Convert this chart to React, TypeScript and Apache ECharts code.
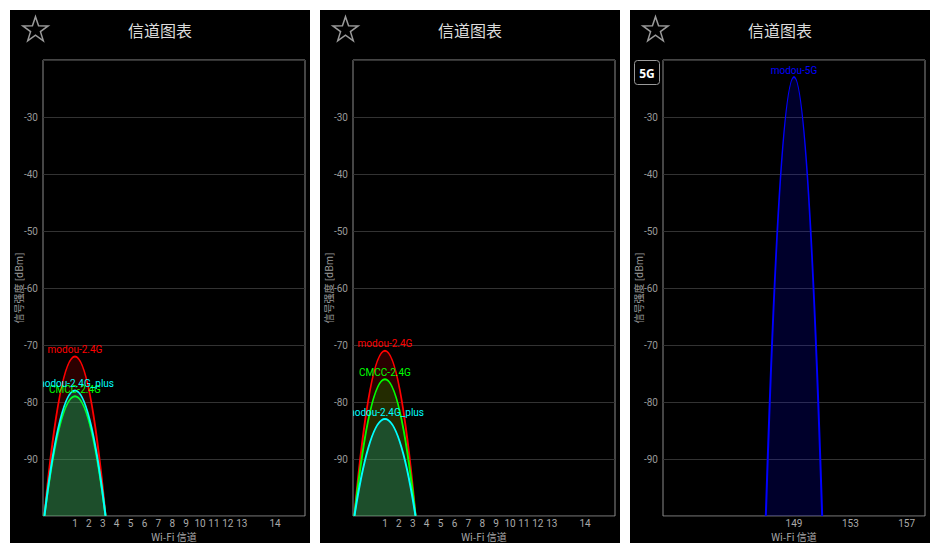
import React, { useEffect, useRef } from 'react';
import * as echarts from 'echarts';

const titleText = '信道图表';
const yAxisName = '信号强度 [dBm]';
const xAxisName = 'Wi-Fi 信道';
const yMin = -100;
const yMax = -20;
const yStep = 10;

// 2.4 GHz channel tick labels and their positions (channel 14 sits 12 MHz past 13)
const ch24Labels = ['1', '2', '3', '4', '5', '6', '7', '8', '9', '10', '11', '12', '13', '14'];
const ch24Pos = [1, 2, 3, 4, 5, 6, 7, 8, 9, 10, 11, 12, 13, 15.4];
// 5 GHz tick labels
const ch5Labels = ['149', '153', '157'];
const ch5Pos = [149, 153, 157];

// Panel 1 networks
const p1Names = ['modou-2.4G', 'CMCC-2.4G', 'modou-2.4G_plus'];
const p1Channels = [1, 1, 1];
const p1Signals = [-72, -79, -78];
const p1Colors = ['#ff0000', '#00ff00', '#00ffff'];

// Panel 2 networks
const p2Names = ['modou-2.4G', 'CMCC-2.4G', 'modou-2.4G_plus'];
const p2Channels = [1, 1, 1];
const p2Signals = [-71, -76, -83];
const p2Colors = ['#ff0000', '#00ff00', '#00ffff'];

// Panel 3 networks
const p3Names = ['modou-5G'];
const p3Channels = [149];
const p3Signals = [-23];
const p3Colors = ['#0000ff'];

const panelLefts = [10, 320, 630];
const panelTop = 10;
const panelW = 300;
const panelH = 533;

function hexToRgba(hex: string, a: number) {
  const n = parseInt(hex.slice(1), 16);
  return `rgba(${(n >> 16) & 255},${(n >> 8) & 255},${n & 255},${a})`;
}

function starPoints(cx: number, cy: number, R: number, r: number) {
  const pts: number[][] = [];
  for (let i = 0; i < 10; i++) {
    const rad = i % 2 === 0 ? R : r;
    const ang = -Math.PI / 2 + (i * Math.PI) / 5;
    pts.push([cx + rad * Math.cos(ang), cy + rad * Math.sin(ang)]);
  }
  return pts;
}

export default function App() {
  const ref = useRef<HTMLDivElement>(null);

  useEffect(() => {
    if (!ref.current) return;
    const chart = echarts.init(ref.current, undefined, { renderer: 'svg' });

    const panels = [
      { names: p1Names, chs: p1Channels, sigs: p1Signals, colors: p1Colors, min: -1.3, max: 17.55, pos: ch24Pos, labels: ch24Labels, half: 2.2 },
      { names: p2Names, chs: p2Channels, sigs: p2Signals, colors: p2Colors, min: -1.3, max: 17.55, pos: ch24Pos, labels: ch24Labels, half: 2.2 },
      { names: p3Names, chs: p3Channels, sigs: p3Signals, colors: p3Colors, min: 139.7, max: 158.3, pos: ch5Pos, labels: ch5Labels, half: 2.0 },
    ];

    const grids: any[] = [];
    const xAxes: any[] = [];
    const yAxes: any[] = [];
    const series: any[] = [];
    const graphics: any[] = [];

    panels.forEach((p, pi) => {
      const pl = panelLefts[pi];
      grids.push({
        left: pl + 33,
        top: 60,
        width: 262,
        height: 456,
        show: true,
        borderColor: '#8a8a8a',
        borderWidth: 1,
        backgroundColor: 'transparent',
      });
      xAxes.push({
        type: 'value',
        gridIndex: pi,
        min: p.min,
        max: p.max,
        axisLine: { show: false },
        axisTick: { show: false },
        splitLine: { show: false },
        axisLabel: {
          customValues: p.pos,
          formatter: (v: number) => {
            const idx = p.pos.findIndex((q) => Math.abs(q - v) < 1e-6);
            return idx >= 0 ? p.labels[idx] : '';
          },
          color: '#aaaaaa',
          fontSize: 10,
          fontFamily: 'Roboto',
          margin: 2,
        },
        name: xAxisName,
        nameLocation: 'middle',
        nameGap: 15,
        nameMoveOverlap: false,
        nameTextStyle: { color: '#aaaaaa', fontSize: 10, fontFamily: 'Noto Sans CJK SC' },
      });
      yAxes.push({
        type: 'value',
        gridIndex: pi,
        min: yMin,
        max: yMax,
        interval: yStep,
        axisLine: { show: false },
        axisTick: { show: false },
        splitLine: { show: true, lineStyle: { color: '#333333', width: 1 } },
        axisLabel: {
          showMinLabel: false,
          showMaxLabel: false,
          color: '#999999',
          fontSize: 10,
          fontFamily: 'Roboto',
          margin: 5,
        },
        name: yAxisName,
        nameLocation: 'middle',
        nameGap: 20,
        nameMoveOverlap: false,
        nameTextStyle: { color: '#999999', fontSize: 10, fontFamily: 'Noto Sans CJK SC' },
      });

      p.names.forEach((nm, i) => {
        const color = p.colors[i];
        const half = p.half;
        series.push({
          type: 'custom',
          name: nm,
          xAxisIndex: pi,
          yAxisIndex: pi,
          clip: true,
          silent: true,
          data: [[p.chs[i], p.sigs[i]]],
          renderItem: (params: any, api: any) => {
            const ch = api.value(0);
            const sig = api.value(1);
            const l = api.coord([ch - half, yMin]);
            const r = api.coord([ch + half, yMin]);
            const t = api.coord([ch, sig]);
            const cy = 2 * t[1] - l[1];
            const d = `M${l[0]} ${l[1]} Q${t[0]} ${cy} ${r[0]} ${r[1]}`;
            return {
              type: 'group',
              children: [
                {
                  type: 'path',
                  shape: { pathData: d },
                  style: { fill: hexToRgba(color, 0.17), stroke: color, lineWidth: 2 },
                },
                {
                  type: 'text',
                  z2: 100,
                  x: t[0],
                  y: t[1] - 2,
                  style: {
                    text: nm,
                    fill: color,
                    fontSize: 10,
                    fontFamily: 'Roboto',
                    align: 'center',
                    verticalAlign: 'bottom',
                    textAlign: 'center',
                    textVerticalAlign: 'bottom',
                  },
                },
              ],
            };
          },
        });
      });

      graphics.push({
        type: 'rect',
        z: -10,
        shape: { x: pl, y: panelTop, width: panelW, height: panelH },
        style: { fill: '#000000' },
      });
      graphics.push({
        type: 'text',
        x: pl + panelW / 2,
        y: 30,
        style: {
          text: titleText,
          fill: '#dddddd',
          fontSize: 16,
          fontFamily: 'Noto Sans CJK SC',
          align: 'center',
          verticalAlign: 'middle',
        },
      });
      graphics.push({
        type: 'polygon',
        shape: { points: starPoints(pl + 25.5, 30, 13.3, 5.2) },
        style: { fill: 'none', stroke: '#9a9a9a', lineWidth: 1.5 },
      });
    });

    // 5G toggle button in panel 3
    graphics.push({
      type: 'rect',
      shape: { x: 634.5, y: 60.5, width: 25, height: 24, r: 3 },
      style: { fill: '#000000', stroke: '#9a9a9a', lineWidth: 1 },
    });
    graphics.push({
      type: 'text',
      x: 647,
      y: 73,
      style: {
        text: '5G',
        fill: '#ffffff',
        fontSize: 12,
        fontWeight: 'bold',
        fontFamily: 'Open Sans',
        align: 'center',
        verticalAlign: 'middle',
      },
    });

    chart.setOption({
      animation: false,
      backgroundColor: '#ffffff',
      grid: grids,
      xAxis: xAxes,
      yAxis: yAxes,
      series,
      graphic: { elements: graphics },
    });

    return () => chart.dispose();
  }, []);

  return (
    <div
      ref={ref}
      style={{ position: 'fixed', left: 0, top: 0, width: 940, height: 553 }}
    />
  );
}
